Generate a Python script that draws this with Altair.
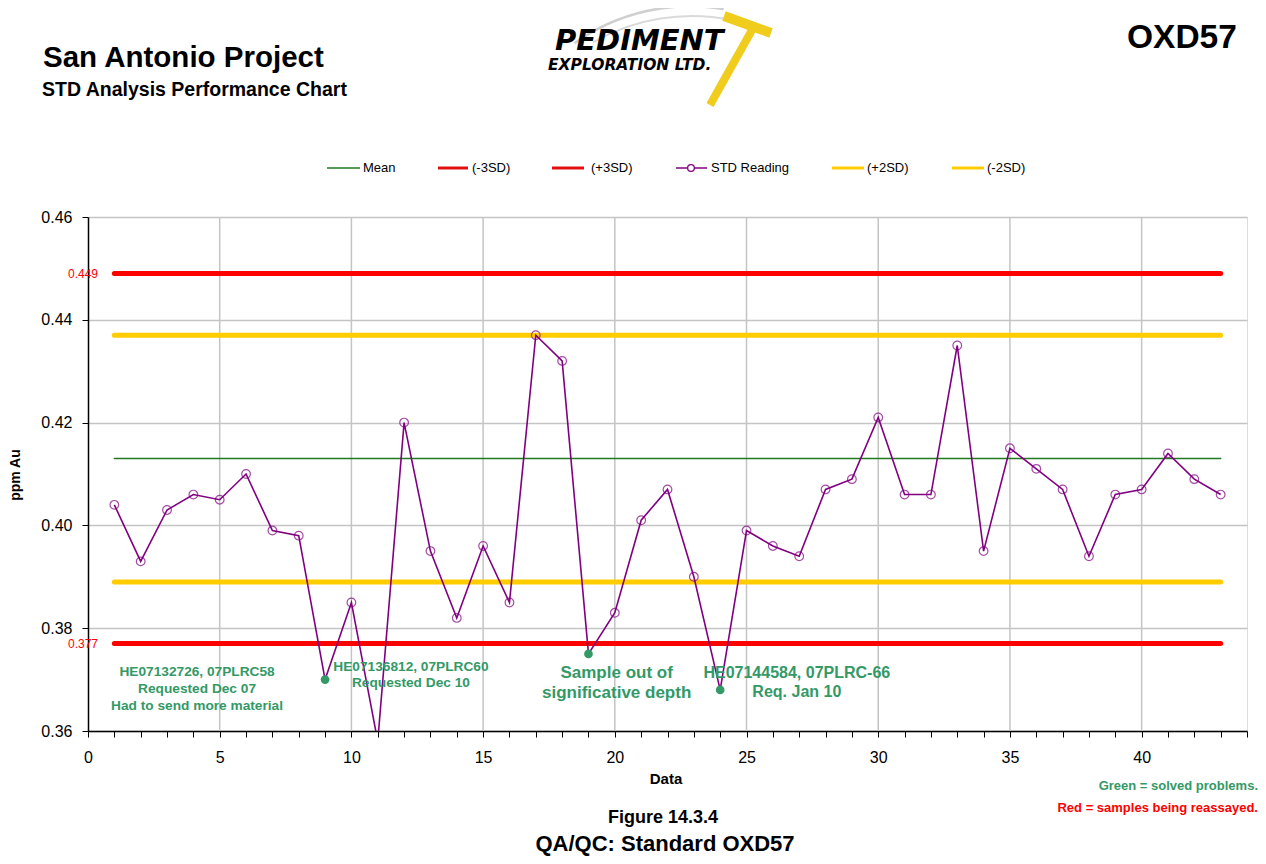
import math
import altair as alt
import pandas as pd

# ---------------- data ----------------
sample = list(range(1, 44))
reading = [0.404, 0.393, 0.403, 0.406, 0.405, 0.410, 0.399, 0.398, 0.370, 0.385,
           0.358, 0.420, 0.395, 0.382, 0.396, 0.385, 0.437, 0.432, 0.375, 0.383,
           0.401, 0.407, 0.390, 0.368, 0.399, 0.396, 0.394, 0.407, 0.409, 0.421,
           0.406, 0.406, 0.435, 0.395, 0.415, 0.411, 0.407, 0.394, 0.406, 0.407,
           0.414, 0.409, 0.406]
solved = [9, 19, 24]

level_names = ["Mean", "(-3SD)", "(+3SD)", "(+2SD)", "(-2SD)"]
level_values = [0.413, 0.377, 0.449, 0.437, 0.389]
level_colors = ["#1f7a1f", "#ff0000", "#ff0000", "#ffcc00", "#ffcc00"]
level_widths = [1.5, 5, 5, 5, 5]

flagged_levels = [0.449, 0.377]

x_ticks = list(range(0, 45))
x_grid = [5, 10, 15, 20, 25, 30, 35, 40]
y_ticks = [0.36, 0.38, 0.40, 0.42, 0.44, 0.46]

ann1_text = ["HE07132726, 07PLRC58", "Requested Dec 07", "Had to send more material",
             "HE07136812, 07PLRC60", "Requested Dec 10"]
ann1_x = [4.14, 4.14, 4.14, 12.26, 12.26]
ann1_y = [0.3715, 0.3682, 0.3649, 0.3725, 0.3693]
ann2_text = ["HE07144584, 07PLRC-66", "Req. Jan 10"]
ann2_x = [26.91, 26.91]
ann2_y = [0.3713, 0.3676]
ann3_text = ["Sample out of", "significative depth"]
ann3_x = [20.07, 20.07]
ann3_y = [0.3713, 0.3674]

# ---------------- tables ----------------
df = pd.DataFrame({"x": sample, "v": reading})
df["solved"] = df["x"].isin(solved)
lev_rows = []
for n, v in zip(level_names, level_values):
    for s in sample:
        lev_rows.append({"name": n, "x": s, "v": v})
df_lev = pd.DataFrame(lev_rows)
df_flag = pd.DataFrame({"v": flagged_levels, "label": [f"{v:.3f}" for v in flagged_levels]})
df_grid = pd.DataFrame({"x": x_grid})
df_ann1 = pd.DataFrame({"t": ann1_text, "x": ann1_x, "v": ann1_y})
df_ann2 = pd.DataFrame({"t": ann2_text, "x": ann2_x, "v": ann2_y})
df_ann3 = pd.DataFrame({"t": ann3_text, "x": ann3_x, "v": ann3_y})
one = pd.DataFrame({"k": [0]})

FONT = "Liberation Sans"
W, H = 1159, 514

x_scale = alt.Scale(domain=[0, 44], nice=False, zero=False)
y_scale = alt.Scale(domain=[0.36, 0.46], nice=False, zero=False)

x_axis = alt.Axis(values=x_ticks, labelExpr="datum.value % 5 === 0 ? datum.label : ''",
                  format="d", tickSize=6, tickColor="black", tickWidth=1,
                  domainColor="black", domainWidth=1.5, labelFontSize=16,
                  labelColor="black", labelPadding=12, grid=False, title=None,
                  labelOverlap=False, labelFlush=False, labelFont=FONT)
y_axis = alt.Axis(values=y_ticks, format=".2f", tickSize=6, tickColor="black",
                  domainColor="black", domainWidth=1.5, labelFontSize=16,
                  labelColor="black", labelPadding=10, grid=True, gridColor="#c4c4c4",
                  gridWidth=1.5, title=None, labelFlush=False, labelFont=FONT)

X = alt.X("x:Q", scale=x_scale, axis=x_axis)
Y = alt.Y("v:Q", scale=y_scale, axis=y_axis)

grid = alt.Chart(df_grid).mark_rule(color="#c4c4c4", strokeWidth=1.5).encode(x=X)

level_layers = []
for n, c, w in zip(level_names, level_colors, level_widths):
    level_layers.append(
        alt.Chart(df_lev).transform_filter(alt.datum.name == n)
        .mark_line(strokeCap="round", color=c, strokeWidth=w).encode(x=X, y=Y)
    )

std_line = alt.Chart(df).mark_line(color="#800080", strokeWidth=1.6, clip=True).encode(x=X, y=Y)
std_pts = alt.Chart(df).transform_filter("!datum.solved").mark_point(
    shape="circle", filled=False, size=75, color="#800080", strokeWidth=1.2, clip=True
).encode(x=X, y=Y)
solved_pts = alt.Chart(df).transform_filter("datum.solved").mark_circle(
    size=75, color="#339966", opacity=1
).encode(x=X, y=Y)


def ann(d, size):
    return alt.Chart(d).mark_text(fontSize=size, fontWeight="bold", color="#339966", font=FONT,
                                  align="center", baseline="middle").encode(x=X, y=Y, text="t:N")


flag_lbl = alt.Chart(df_flag).mark_text(fontSize=12, color="#ff0000", font=FONT, align="right",
                                        baseline="middle").encode(x=alt.value(10), y=Y, text="label:N")


def txt(s, x, y, size, color="black", bold=True, align="left", baseline="alphabetic",
        angle=None, font=FONT, italic=False):
    props = dict(text=s, fontSize=size, color=color, fontWeight="bold" if bold else "normal",
                 align=align, baseline=baseline, font=font)
    if angle is not None:
        props["angle"] = angle
    if italic:
        props["fontStyle"] = "italic"
    return alt.Chart(one).mark_text(**props).encode(x=alt.value(x), y=alt.value(y))


def hline(x1, x2, y, color, width):
    return alt.Chart(one).mark_rule(color=color, strokeWidth=width).encode(
        x=alt.value(x1), x2=alt.value(x2), y=alt.value(y))


def seg(x1, y1, x2, y2, color, width):
    return alt.Chart(one).mark_rule(color=color, strokeWidth=width, strokeCap="butt").encode(
        x=alt.value(x1), x2=alt.value(x2), y=alt.value(y1), y2=alt.value(y2))


def swoosh(cx, cy, r, t1, t2, color, w):
    return alt.Chart(one).mark_arc(color=color, theta=t1, theta2=t2, radius=r, radius2=r - w).encode(
        x=alt.value(cx), y=alt.value(cy))


deco = []
# titles
deco.append(txt("San Antonio Project", -45, -150, 29.5))
deco.append(txt("STD Analysis Performance Chart", -46, -121, 19.5))
deco.append(txt("OXD57", 1039, -169, 33.5))
# logo
TWO_PI = 2 * math.pi
deco.append(swoosh(602, -12, 200, TWO_PI - 0.62, TWO_PI + 0.17, "#cfcfcf", 2.5))
deco.append(swoosh(604, -2, 200, TWO_PI - 0.52, TWO_PI + 0.2, "#dadada", 2))
deco.append(seg(664, -187, 622, -112, "#f0cc1c", 8))
deco.append(seg(636, -201, 683, -184, "#f0cc1c", 10))
deco.append(txt("PEDIMENT", 467, -167, 29, font="DejaVu Sans", italic=True))
deco.append(txt("EXPLORATION LTD.", 460, -147, 15.5, font="DejaVu Sans", italic=True))
# legend
LY = -49
leg = [("Mean", 239, 272, 275, "#1f7a1f", 1.5),
       ("(-3SD)", 350, 380, 384, "#e01010", 3),
       ("(+3SD)", 464, 496, 503, "#e01010", 3),
       ("STD Reading", 588, 619, 623, "#800080", 1.5),
       ("(+2SD)", 744, 776, 779, "#ffcc00", 3),
       ("(-2SD)", 864, 896, 899, "#ffcc00", 3)]
for name, a, b, t, c, w in leg:
    deco.append(hline(a, b, LY, c, w))
    deco.append(txt(name, t, LY, 13, bold=False, baseline="middle"))
deco.append(alt.Chart(one).mark_point(shape="circle", filled=False, stroke="#800080", fill="white",
                                      fillOpacity=1, size=45, strokeWidth=1.3).encode(
    x=alt.value(603), y=alt.value(LY)))
# axis titles & captions
deco.append(txt("ppm Au", -72, 258, 14, angle=270, align="center", baseline="middle"))
deco.append(txt("Data", 578, 562, 15, align="center", baseline="middle"))
deco.append(txt("Green = solved problems.", 1170, 569, 13, color="#339966", align="right", baseline="middle"))
deco.append(txt("Red = samples being reassayed.", 1170, 591, 13, color="#ff0000", align="right", baseline="middle"))
deco.append(txt("Figure 14.3.4", 575, 601, 18, align="center", baseline="middle"))
deco.append(txt("QA/QC: Standard OXD57", 577, 627, 22, align="center", baseline="middle"))

chart = alt.layer(grid, *level_layers, std_line, std_pts, solved_pts,
                  ann(df_ann1, 13.7), ann(df_ann2, 16), ann(df_ann3, 17), flag_lbl, *deco).properties(
    width=W, height=H,
    padding={"left": 80, "top": 209, "right": 11, "bottom": 125},
    autosize=alt.AutoSizeParams(type="none"),
).configure_view(stroke="#c4c4c4", strokeWidth=1.5).configure(font=FONT, background="white")

chart.save("out.html", embed_options={"renderer": "svg", "actions": False})
